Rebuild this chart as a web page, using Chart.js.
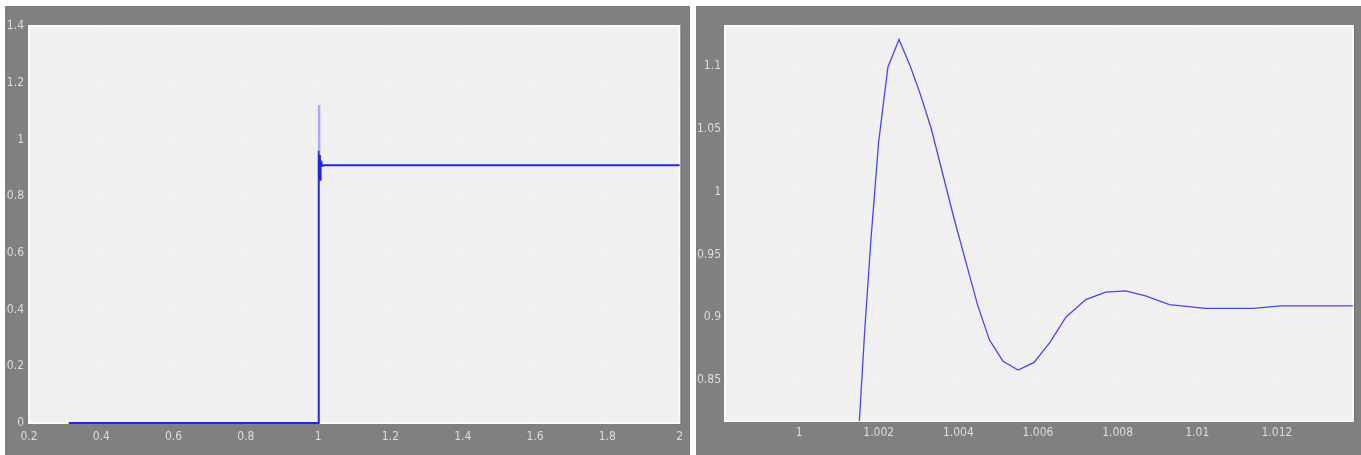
<!DOCTYPE html>
<html>
<head>
<meta charset="utf-8">
<script src="https://cdn.jsdelivr.net/npm/chart.js@4/dist/chart.umd.min.js"></script>
<style>
  html, body { margin: 0; padding: 0; background: #ffffff; }
  body { width: 1361px; height: 455px; position: relative; overflow: hidden; }
  canvas { position: absolute; }
  #left { left: 5px; top: 6px; }
  #right { left: 696px; top: 6px; }
</style>
</head>
<body>
<canvas id="left" width="685" height="449"></canvas>
<canvas id="right" width="665" height="449"></canvas>
<script>
// step response: flat zero, then the jump at t = 1
const leadX = [0.31, 1.0];
const leadY = [0, 0];
const respX = [1.0015, 1.00165, 1.0018, 1.002, 1.00223, 1.00251, 1.00279, 1.00304, 1.00332, 1.0036,
  1.00388, 1.00418, 1.00448, 1.00478, 1.00512, 1.0055, 1.0059, 1.0063, 1.0067, 1.0072,
  1.0077, 1.0082, 1.0087, 1.0093, 1.0102, 1.0114, 1.0121, 1.013, 1.014];
const respY = [0.81, 0.89, 0.96, 1.04, 1.099, 1.121, 1.10, 1.078, 1.05, 1.015,
  0.98, 0.945, 0.91, 0.882, 0.865, 0.858, 0.864, 0.88, 0.90, 0.914,
  0.920, 0.921, 0.917, 0.910, 0.907, 0.907, 0.909, 0.909, 0.909];
const tailX = [2.0];
const tailY = [0.909];

const leftTicksX = [0.2, 0.4, 0.6, 0.8, 1, 1.2, 1.4, 1.6, 1.8, 2];
const leftTicksY = [0, 0.2, 0.4, 0.6, 0.8, 1, 1.2, 1.4];
const rightTicksX = [1, 1.002, 1.004, 1.006, 1.008, 1.01, 1.012];
const rightTicksY = [0.85, 0.9, 0.95, 1, 1.05, 1.1];

const toPts = (xs, ys) => xs.map((x, i) => ({ x: x, y: ys[i] }));
const fmt = v => String(Number(v.toFixed(4)));

const tickFont = { family: "'DejaVu Sans Condensed', 'DejaVu Sans', sans-serif", size: 12 };
const tickColor = '#dcdcdc';

// gray scope frame + light plot face
const scopeBg = {
  id: 'scopeBg',
  beforeDraw(chart) {
    const { ctx, chartArea: a } = chart;
    ctx.save();
    ctx.fillStyle = '#808080';
    ctx.fillRect(0, 0, chart.width, chart.height);
    ctx.fillStyle = '#f0f0f0';
    ctx.fillRect(a.left, a.top, a.right - a.left, a.bottom - a.top);
    ctx.restore();
  },
  beforeDatasetsDraw(chart) {
    const { ctx, chartArea: a } = chart;
    ctx.save();
    ctx.strokeStyle = '#fbfbfb';
    ctx.lineWidth = 2;
    ctx.strokeRect(a.left, a.top, a.right - a.left, a.bottom - a.top);
    ctx.strokeStyle = '#6e6e6e';
    ctx.lineWidth = 1;
    ctx.beginPath();
    ctx.moveTo(a.right + 1.5, a.top);
    ctx.lineTo(a.right + 1.5, a.bottom + 1);
    ctx.stroke();
    ctx.restore();
  }
};

function scopeOptions(cfg) {
  return {
    responsive: false,
    animation: false,
    events: [],
    layout: { padding: cfg.padding },
    plugins: { legend: { display: false }, tooltip: { enabled: false } },
    scales: {
      x: {
        type: 'linear',
        min: cfg.xMin, max: cfg.xMax,
        afterFit: s => { s.height = cfg.xHeight; },
        afterBuildTicks: s => { s.ticks = cfg.ticksX.map(v => ({ value: v })); },
        grid: { color: '#ffffff', drawTicks: false, lineWidth: 1 },
        border: { display: false, dash: [1, 3] },
        ticks: { color: tickColor, font: tickFont, padding: cfg.xPad, maxRotation: 0, callback: fmt }
      },
      y: {
        type: 'linear',
        min: cfg.yMin, max: cfg.yMax,
        afterFit: s => { s.width = cfg.yWidth; },
        afterBuildTicks: s => { s.ticks = cfg.ticksY.map(v => ({ value: v })); },
        grid: { color: '#ffffff', drawTicks: false, lineWidth: 1 },
        border: { display: false, dash: [1, 3] },
        ticks: { color: tickColor, font: tickFont, padding: cfg.yPad, callback: fmt }
      }
    }
  };
}

new Chart(document.getElementById('left'), {
  type: 'line',
  data: {
    datasets: [{
      data: toPts(leadX, leadY).concat(toPts(respX, respY), toPts(tailX, tailY)),
      borderColor: '#2424e6',
      borderWidth: 2,
      pointRadius: 0,
      tension: 0,
      clip: 3,
      segment: {
        borderColor: c => (c.p0.parsed.y > 0.93 && c.p1.parsed.y > 0.93) ? 'rgba(110,110,255,0.55)' : undefined
      }
    }]
  },
  options: scopeOptions({
    xMin: 0.2, xMax: 2, yMin: 0, yMax: 1.4,
    ticksX: leftTicksX, ticksY: leftTicksY,
    xHeight: 32, yWidth: 24, xPad: 7, yPad: 5,
    padding: { top: 20, right: 9, bottom: 0, left: 0 }
  }),
  plugins: [scopeBg]
});

new Chart(document.getElementById('right'), {
  type: 'line',
  data: {
    datasets: [{
      data: toPts(respX, respY),
      borderColor: '#4646f0',
      borderWidth: 1.3,
      pointRadius: 0,
      tension: 0
    }]
  },
  options: scopeOptions({
    xMin: 0.99814, xMax: 1.01391, yMin: 0.8174, yMax: 1.1318,
    ticksX: rightTicksX, ticksY: rightTicksY,
    xHeight: 34, yWidth: 29, xPad: 5, yPad: 4,
    padding: { top: 20, right: 8, bottom: 0, left: 0 }
  }),
  plugins: [scopeBg]
});
</script>
</body>
</html>
